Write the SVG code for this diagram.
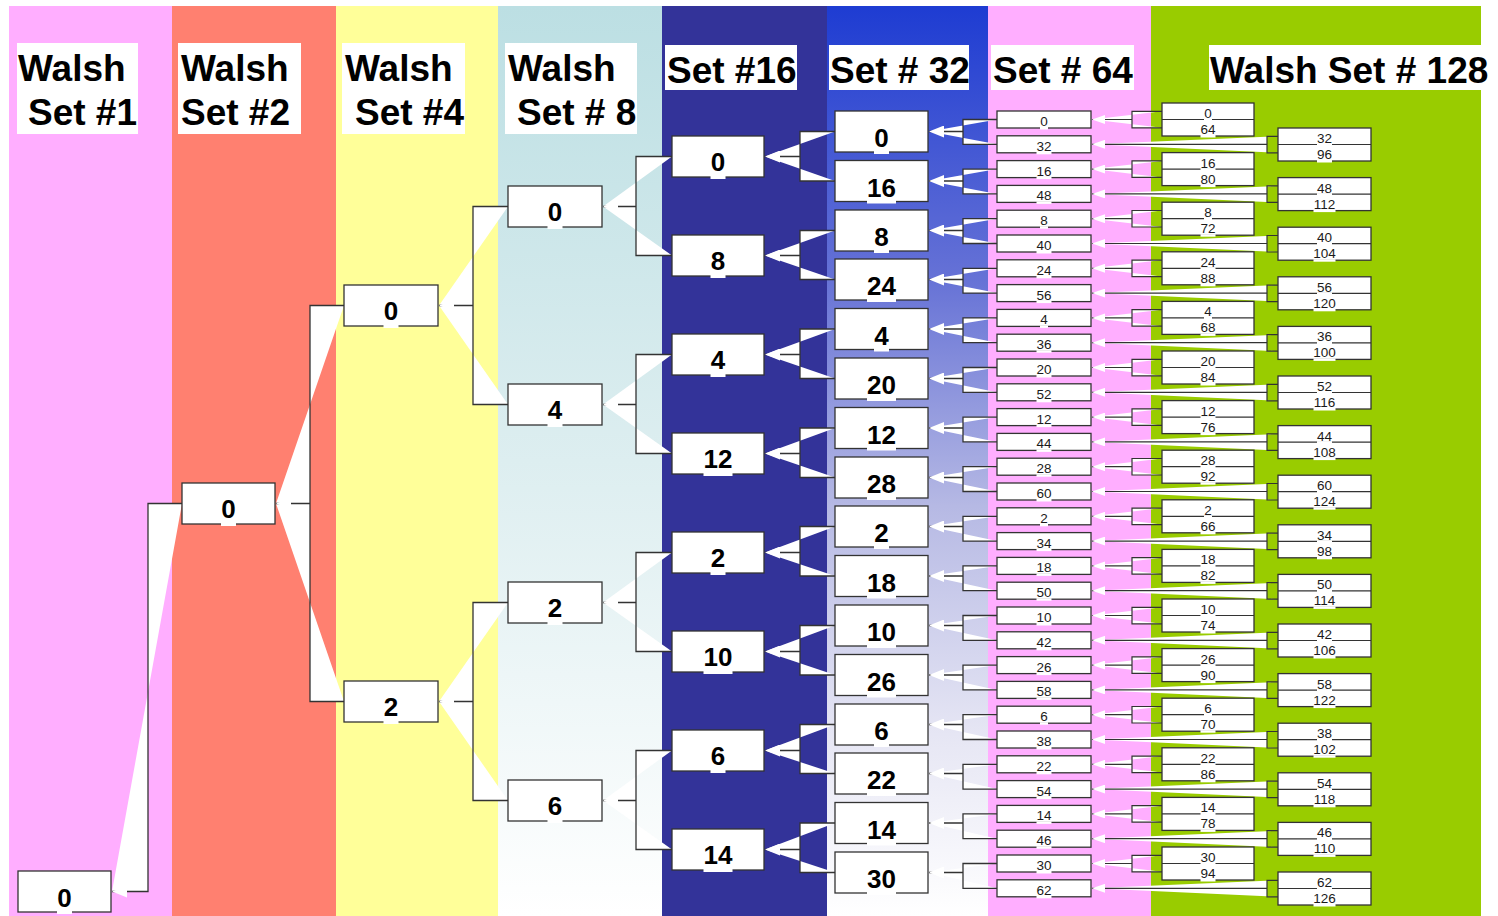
<svg xmlns="http://www.w3.org/2000/svg" width="1498" height="916" viewBox="0 0 1498 916">
<style>
.bx{fill:#fff;stroke:#333;stroke-width:1.3}
.dv{stroke:#333;stroke-width:1.2}
.tb{fill:#fff}
.gp{fill:#fff}
.t1{font-family:"Liberation Sans",Arial,sans-serif;font-weight:bold;font-size:37px;fill:#000}
.nb{font-family:"Liberation Sans",Arial,sans-serif;font-weight:bold;font-size:26px;fill:#000;text-anchor:middle}
.ns{font-family:"Liberation Sans",Arial,sans-serif;font-size:13.5px;fill:#1a1a1a;text-anchor:middle}
.c{fill:#fff;stroke:#333;stroke-width:1.3;marker-end:url(#ab)}
.cs{fill:#fff;stroke:#333;stroke-width:1.2;marker-end:url(#as)}
</style>
<defs>
<linearGradient id="g4" x1="0" y1="0" x2="0" y2="1">
<stop offset="0" stop-color="#BCDFE3"/><stop offset="0.5" stop-color="#DDEEF0"/><stop offset="1" stop-color="#FFFFFF"/>
</linearGradient>
<linearGradient id="g6" x1="0" y1="0" x2="0" y2="1">
<stop offset="0" stop-color="#1E3CD2"/><stop offset="0.3" stop-color="#6672D6"/><stop offset="0.55" stop-color="#B6B9E4"/><stop offset="0.8" stop-color="#E6E6F4"/><stop offset="1" stop-color="#FFFFFF"/>
</linearGradient>
<marker id="ab" viewBox="0 0 15 12" refX="15" refY="6" markerWidth="15" markerHeight="12" markerUnits="userSpaceOnUse" orient="auto"><path d="M0,0L15,6L0,12Z" fill="#fff"/></marker>
<marker id="as" viewBox="0 0 13 9" refX="13" refY="4.5" markerWidth="13" markerHeight="9" markerUnits="userSpaceOnUse" orient="auto"><path d="M0,0L13,4.5L0,9Z" fill="#fff"/></marker>
</defs>
<rect width="1498" height="916" fill="#fff"/>
<g id="columns">
<rect x="9" y="6" width="163" height="910" fill="#FFAEFF"/>
<rect x="172" y="6" width="164" height="910" fill="#FF8070"/>
<rect x="336" y="6" width="162" height="910" fill="#FFFF99"/>
<rect x="498" y="6" width="164" height="910" fill="url(#g4)"/>
<rect x="662" y="6" width="165" height="910" fill="#333399"/>
<rect x="827" y="6" width="161" height="910" fill="url(#g6)"/>
<rect x="988" y="6" width="163" height="910" fill="#FFAEFF"/>
<rect x="1151" y="6" width="330" height="910" fill="#99CC00"/>
</g>
<g id="titles">
<rect class="tb" x="17" y="43" width="121" height="91"/>
<text class="t1" x="18" y="81">Walsh</text><text class="t1" x="28" y="125">Set #1</text>
<rect class="tb" x="178" y="43" width="123" height="91"/>
<text class="t1" x="181" y="81">Walsh</text><text class="t1" x="181" y="125">Set #2</text>
<rect class="tb" x="342" y="43" width="123" height="91"/>
<text class="t1" x="345" y="81">Walsh</text><text class="t1" x="355" y="125">Set #4</text>
<rect class="tb" x="505" y="43" width="132" height="91"/>
<text class="t1" x="508" y="81">Walsh</text><text class="t1" x="517" y="125">Set # 8</text>
<rect class="tb" x="665" y="45" width="132" height="45"/>
<text class="t1" x="667" y="83">Set #16</text>
<rect class="tb" x="829" y="45" width="140" height="45"/>
<text class="t1" x="830" y="83">Set # 32</text>
<rect class="tb" x="991" y="45" width="143" height="45"/>
<text class="t1" x="993" y="83">Set # 64</text>
<rect class="tb" x="1209" y="45" width="281" height="45"/>
<text class="t1" x="1210" y="83">Walsh Set # 128</text>
</g>
<g id="connectors">
<path class="c" d="M182,503.5H148V891.5H112"/>
<path class="c" d="M344,305.5H310V503.5H276M344,701.5H310V503.5H276"/>
<path class="c" d="M508,206.5H473V305.5H439M508,404.5H473V305.5H439"/>
<path class="c" d="M508,602.5H473V701.5H439M508,800.5H473V701.5H439"/>
<path class="c" d="M672,156.5H636V206.5H603M672,255.5H636V206.5H603"/>
<path class="c" d="M672,354.5H636V404.5H603M672,453.5H636V404.5H603"/>
<path class="c" d="M672,552.5H636V602.5H603M672,651.5H636V602.5H603"/>
<path class="c" d="M672,750.5H636V800.5H603M672,849.5H636V800.5H603"/>
<path class="c" d="M835,131.5H800V156.5H765M835,181H800V156.5H765"/>
<path class="c" d="M835,230.5H800V255.5H765M835,279.5H800V255.5H765"/>
<path class="c" d="M835,329H800V354.5H765M835,378.5H800V354.5H765"/>
<path class="c" d="M835,428H800V453.5H765M835,477.5H800V453.5H765"/>
<path class="c" d="M835,526.5H800V552.5H765M835,576H800V552.5H765"/>
<path class="c" d="M835,625.5H800V651.5H765M835,675H800V651.5H765"/>
<path class="c" d="M835,724.5H800V750.5H765M835,773.5H800V750.5H765"/>
<path class="c" d="M835,823H800V849.5H765M835,872.5H800V849.5H765"/>
<path class="c" d="M997,119.5H963V131.5H929M997,144.3H963V131.5H929"/>
<path class="c" d="M997,169.1H963V181H929M997,193.9H963V181H929"/>
<path class="c" d="M997,218.7H963V230.5H929M997,243.5H963V230.5H929"/>
<path class="c" d="M997,268.3H963V279.5H929M997,293.1H963V279.5H929"/>
<path class="c" d="M997,317.9H963V329H929M997,342.7H963V329H929"/>
<path class="c" d="M997,367.5H963V378.5H929M997,392.3H963V378.5H929"/>
<path class="c" d="M997,417.1H963V428H929M997,441.9H963V428H929"/>
<path class="c" d="M997,466.7H963V477.5H929M997,491.5H963V477.5H929"/>
<path class="c" d="M997,516.3H963V526.5H929M997,541.1H963V526.5H929"/>
<path class="c" d="M997,565.9H963V576H929M997,590.7H963V576H929"/>
<path class="c" d="M997,615.5H963V625.5H929M997,640.3H963V625.5H929"/>
<path class="c" d="M997,665.1H963V675H929M997,689.9H963V675H929"/>
<path class="c" d="M997,714.7H963V724.5H929M997,739.5H963V724.5H929"/>
<path class="c" d="M997,764.3H963V773.5H929M997,789.1H963V773.5H929"/>
<path class="c" d="M997,813.9H963V823H929M997,838.7H963V823H929"/>
<path class="c" d="M997,863.5H963V872.5H929M997,888.3H963V872.5H929"/>
<path class="cs" d="M1162,111.3H1132V119.5H1092M1162,127.8H1132V119.5H1092"/>
<path class="cs" d="M1278,136.3H1267V144.3H1092M1278,152.8H1267V144.3H1092"/>
<path class="cs" d="M1162,160.9H1132V169.1H1092M1162,177.4H1132V169.1H1092"/>
<path class="cs" d="M1278,185.9H1267V193.9H1092M1278,202.4H1267V193.9H1092"/>
<path class="cs" d="M1162,210.5H1132V218.7H1092M1162,227H1132V218.7H1092"/>
<path class="cs" d="M1278,235.5H1267V243.5H1092M1278,252H1267V243.5H1092"/>
<path class="cs" d="M1162,260.1H1132V268.3H1092M1162,276.6H1132V268.3H1092"/>
<path class="cs" d="M1278,285.1H1267V293.1H1092M1278,301.6H1267V293.1H1092"/>
<path class="cs" d="M1162,309.7H1132V317.9H1092M1162,326.2H1132V317.9H1092"/>
<path class="cs" d="M1278,334.7H1267V342.7H1092M1278,351.2H1267V342.7H1092"/>
<path class="cs" d="M1162,359.3H1132V367.5H1092M1162,375.8H1132V367.5H1092"/>
<path class="cs" d="M1278,384.3H1267V392.3H1092M1278,400.8H1267V392.3H1092"/>
<path class="cs" d="M1162,408.9H1132V417.1H1092M1162,425.4H1132V417.1H1092"/>
<path class="cs" d="M1278,433.9H1267V441.9H1092M1278,450.4H1267V441.9H1092"/>
<path class="cs" d="M1162,458.5H1132V466.7H1092M1162,475H1132V466.7H1092"/>
<path class="cs" d="M1278,483.5H1267V491.5H1092M1278,500H1267V491.5H1092"/>
<path class="cs" d="M1162,508.1H1132V516.3H1092M1162,524.6H1132V516.3H1092"/>
<path class="cs" d="M1278,533.1H1267V541.1H1092M1278,549.6H1267V541.1H1092"/>
<path class="cs" d="M1162,557.7H1132V565.9H1092M1162,574.2H1132V565.9H1092"/>
<path class="cs" d="M1278,582.7H1267V590.7H1092M1278,599.2H1267V590.7H1092"/>
<path class="cs" d="M1162,607.3H1132V615.5H1092M1162,623.8H1132V615.5H1092"/>
<path class="cs" d="M1278,632.3H1267V640.3H1092M1278,648.8H1267V640.3H1092"/>
<path class="cs" d="M1162,656.9H1132V665.1H1092M1162,673.4H1132V665.1H1092"/>
<path class="cs" d="M1278,681.9H1267V689.9H1092M1278,698.4H1267V689.9H1092"/>
<path class="cs" d="M1162,706.5H1132V714.7H1092M1162,723H1132V714.7H1092"/>
<path class="cs" d="M1278,731.5H1267V739.5H1092M1278,748H1267V739.5H1092"/>
<path class="cs" d="M1162,756.1H1132V764.3H1092M1162,772.6H1132V764.3H1092"/>
<path class="cs" d="M1278,781.1H1267V789.1H1092M1278,797.6H1267V789.1H1092"/>
<path class="cs" d="M1162,805.7H1132V813.9H1092M1162,822.2H1132V813.9H1092"/>
<path class="cs" d="M1278,830.7H1267V838.7H1092M1278,847.2H1267V838.7H1092"/>
<path class="cs" d="M1162,855.3H1132V863.5H1092M1162,871.8H1132V863.5H1092"/>
<path class="cs" d="M1278,880.3H1267V888.3H1092M1278,896.8H1267V888.3H1092"/>
</g>
<g id="set1">
<g id="s1-0" transform="translate(18,871)"><rect class="bx" width="93" height="41"/><rect class="gp" x="39" y="39.5" width="15" height="3.5"/><text class="nb" x="46.5" y="35.5">0</text></g>
</g>
<g id="set2">
<g id="s2-0" transform="translate(182,483)"><rect class="bx" width="93" height="41"/><rect class="gp" x="39" y="39.5" width="15" height="3.5"/><text class="nb" x="46.5" y="35">0</text></g>
</g>
<g id="set4">
<g id="s4-0" transform="translate(344,285)"><rect class="bx" width="94" height="41"/><rect class="gp" x="39.5" y="39.5" width="15" height="3.5"/><text class="nb" x="47" y="35">0</text></g>
<g id="s4-2" transform="translate(344,681)"><rect class="bx" width="94" height="41"/><rect class="gp" x="39.5" y="39.5" width="15" height="3.5"/><text class="nb" x="47" y="35">2</text></g>
</g>
<g id="set8">
<g id="s8-0" transform="translate(508,186)"><rect class="bx" width="94" height="41"/><rect class="gp" x="39.5" y="39.5" width="15" height="3.5"/><text class="nb" x="47" y="35">0</text></g>
<g id="s8-4" transform="translate(508,384)"><rect class="bx" width="94" height="41"/><rect class="gp" x="39.5" y="39.5" width="15" height="3.5"/><text class="nb" x="47" y="35">4</text></g>
<g id="s8-2" transform="translate(508,582)"><rect class="bx" width="94" height="41"/><rect class="gp" x="39.5" y="39.5" width="15" height="3.5"/><text class="nb" x="47" y="35">2</text></g>
<g id="s8-6" transform="translate(508,780)"><rect class="bx" width="94" height="41"/><rect class="gp" x="39.5" y="39.5" width="15" height="3.5"/><text class="nb" x="47" y="35">6</text></g>
</g>
<g id="set16">
<g id="s16-0" transform="translate(672,136)"><rect class="bx" width="92" height="41"/><rect class="gp" x="38.5" y="39.5" width="15" height="3.5"/><text class="nb" x="46" y="35">0</text></g>
<g id="s16-8" transform="translate(672,235)"><rect class="bx" width="92" height="41"/><rect class="gp" x="38.5" y="39.5" width="15" height="3.5"/><text class="nb" x="46" y="35">8</text></g>
<g id="s16-4" transform="translate(672,334)"><rect class="bx" width="92" height="41"/><rect class="gp" x="38.5" y="39.5" width="15" height="3.5"/><text class="nb" x="46" y="35">4</text></g>
<g id="s16-12" transform="translate(672,433)"><rect class="bx" width="92" height="41"/><rect class="gp" x="31.5" y="39.5" width="29" height="3.5"/><text class="nb" x="46" y="35">12</text></g>
<g id="s16-2" transform="translate(672,532)"><rect class="bx" width="92" height="41"/><rect class="gp" x="38.5" y="39.5" width="15" height="3.5"/><text class="nb" x="46" y="35">2</text></g>
<g id="s16-10" transform="translate(672,631)"><rect class="bx" width="92" height="41"/><rect class="gp" x="31.5" y="39.5" width="29" height="3.5"/><text class="nb" x="46" y="35">10</text></g>
<g id="s16-6" transform="translate(672,730)"><rect class="bx" width="92" height="41"/><rect class="gp" x="38.5" y="39.5" width="15" height="3.5"/><text class="nb" x="46" y="35">6</text></g>
<g id="s16-14" transform="translate(672,829)"><rect class="bx" width="92" height="41"/><rect class="gp" x="31.5" y="39.5" width="29" height="3.5"/><text class="nb" x="46" y="35">14</text></g>
</g>
<g id="set32">
<g id="s32-0" transform="translate(835,111)"><rect class="bx" width="93" height="41"/><rect class="gp" x="39" y="39.5" width="15" height="3.5"/><text class="nb" x="46.5" y="36">0</text></g>
<g id="s32-16" transform="translate(835,160.5)"><rect class="bx" width="93" height="41"/><rect class="gp" x="32" y="39.5" width="29" height="3.5"/><text class="nb" x="46.5" y="36">16</text></g>
<g id="s32-8" transform="translate(835,210)"><rect class="bx" width="93" height="41"/><rect class="gp" x="39" y="39.5" width="15" height="3.5"/><text class="nb" x="46.5" y="36">8</text></g>
<g id="s32-24" transform="translate(835,259)"><rect class="bx" width="93" height="41"/><rect class="gp" x="32" y="39.5" width="29" height="3.5"/><text class="nb" x="46.5" y="36">24</text></g>
<g id="s32-4" transform="translate(835,308.5)"><rect class="bx" width="93" height="41"/><rect class="gp" x="39" y="39.5" width="15" height="3.5"/><text class="nb" x="46.5" y="36">4</text></g>
<g id="s32-20" transform="translate(835,358)"><rect class="bx" width="93" height="41"/><rect class="gp" x="32" y="39.5" width="29" height="3.5"/><text class="nb" x="46.5" y="36">20</text></g>
<g id="s32-12" transform="translate(835,407.5)"><rect class="bx" width="93" height="41"/><rect class="gp" x="32" y="39.5" width="29" height="3.5"/><text class="nb" x="46.5" y="36">12</text></g>
<g id="s32-28" transform="translate(835,457)"><rect class="bx" width="93" height="41"/><rect class="gp" x="32" y="39.5" width="29" height="3.5"/><text class="nb" x="46.5" y="36">28</text></g>
<g id="s32-2" transform="translate(835,506)"><rect class="bx" width="93" height="41"/><rect class="gp" x="39" y="39.5" width="15" height="3.5"/><text class="nb" x="46.5" y="36">2</text></g>
<g id="s32-18" transform="translate(835,555.5)"><rect class="bx" width="93" height="41"/><rect class="gp" x="32" y="39.5" width="29" height="3.5"/><text class="nb" x="46.5" y="36">18</text></g>
<g id="s32-10" transform="translate(835,605)"><rect class="bx" width="93" height="41"/><rect class="gp" x="32" y="39.5" width="29" height="3.5"/><text class="nb" x="46.5" y="36">10</text></g>
<g id="s32-26" transform="translate(835,654.5)"><rect class="bx" width="93" height="41"/><rect class="gp" x="32" y="39.5" width="29" height="3.5"/><text class="nb" x="46.5" y="36">26</text></g>
<g id="s32-6" transform="translate(835,704)"><rect class="bx" width="93" height="41"/><rect class="gp" x="39" y="39.5" width="15" height="3.5"/><text class="nb" x="46.5" y="36">6</text></g>
<g id="s32-22" transform="translate(835,753)"><rect class="bx" width="93" height="41"/><rect class="gp" x="32" y="39.5" width="29" height="3.5"/><text class="nb" x="46.5" y="36">22</text></g>
<g id="s32-14" transform="translate(835,802.5)"><rect class="bx" width="93" height="41"/><rect class="gp" x="32" y="39.5" width="29" height="3.5"/><text class="nb" x="46.5" y="36">14</text></g>
<g id="s32-30" transform="translate(835,852)"><rect class="bx" width="93" height="41"/><rect class="gp" x="32" y="39.5" width="29" height="3.5"/><text class="nb" x="46.5" y="36">30</text></g>
</g>
<g id="set64">
<g id="s64-0" transform="translate(997,111)"><rect class="bx" width="94" height="17"/><rect class="gp" x="43" y="16" width="8" height="2.5"/><text class="ns" x="47" y="15">0</text></g>
<g id="s64-32" transform="translate(997,135.8)"><rect class="bx" width="94" height="17"/><rect class="gp" x="39.5" y="16" width="15" height="2.5"/><text class="ns" x="47" y="15">32</text></g>
<g id="s64-16" transform="translate(997,160.6)"><rect class="bx" width="94" height="17"/><rect class="gp" x="39.5" y="16" width="15" height="2.5"/><text class="ns" x="47" y="15">16</text></g>
<g id="s64-48" transform="translate(997,185.4)"><rect class="bx" width="94" height="17"/><rect class="gp" x="39.5" y="16" width="15" height="2.5"/><text class="ns" x="47" y="15">48</text></g>
<g id="s64-8" transform="translate(997,210.2)"><rect class="bx" width="94" height="17"/><rect class="gp" x="43" y="16" width="8" height="2.5"/><text class="ns" x="47" y="15">8</text></g>
<g id="s64-40" transform="translate(997,235)"><rect class="bx" width="94" height="17"/><rect class="gp" x="39.5" y="16" width="15" height="2.5"/><text class="ns" x="47" y="15">40</text></g>
<g id="s64-24" transform="translate(997,259.8)"><rect class="bx" width="94" height="17"/><rect class="gp" x="39.5" y="16" width="15" height="2.5"/><text class="ns" x="47" y="15">24</text></g>
<g id="s64-56" transform="translate(997,284.6)"><rect class="bx" width="94" height="17"/><rect class="gp" x="39.5" y="16" width="15" height="2.5"/><text class="ns" x="47" y="15">56</text></g>
<g id="s64-4" transform="translate(997,309.4)"><rect class="bx" width="94" height="17"/><rect class="gp" x="43" y="16" width="8" height="2.5"/><text class="ns" x="47" y="15">4</text></g>
<g id="s64-36" transform="translate(997,334.2)"><rect class="bx" width="94" height="17"/><rect class="gp" x="39.5" y="16" width="15" height="2.5"/><text class="ns" x="47" y="15">36</text></g>
<g id="s64-20" transform="translate(997,359)"><rect class="bx" width="94" height="17"/><rect class="gp" x="39.5" y="16" width="15" height="2.5"/><text class="ns" x="47" y="15">20</text></g>
<g id="s64-52" transform="translate(997,383.8)"><rect class="bx" width="94" height="17"/><rect class="gp" x="39.5" y="16" width="15" height="2.5"/><text class="ns" x="47" y="15">52</text></g>
<g id="s64-12" transform="translate(997,408.6)"><rect class="bx" width="94" height="17"/><rect class="gp" x="39.5" y="16" width="15" height="2.5"/><text class="ns" x="47" y="15">12</text></g>
<g id="s64-44" transform="translate(997,433.4)"><rect class="bx" width="94" height="17"/><rect class="gp" x="39.5" y="16" width="15" height="2.5"/><text class="ns" x="47" y="15">44</text></g>
<g id="s64-28" transform="translate(997,458.2)"><rect class="bx" width="94" height="17"/><rect class="gp" x="39.5" y="16" width="15" height="2.5"/><text class="ns" x="47" y="15">28</text></g>
<g id="s64-60" transform="translate(997,483)"><rect class="bx" width="94" height="17"/><rect class="gp" x="39.5" y="16" width="15" height="2.5"/><text class="ns" x="47" y="15">60</text></g>
<g id="s64-2" transform="translate(997,507.8)"><rect class="bx" width="94" height="17"/><rect class="gp" x="43" y="16" width="8" height="2.5"/><text class="ns" x="47" y="15">2</text></g>
<g id="s64-34" transform="translate(997,532.6)"><rect class="bx" width="94" height="17"/><rect class="gp" x="39.5" y="16" width="15" height="2.5"/><text class="ns" x="47" y="15">34</text></g>
<g id="s64-18" transform="translate(997,557.4)"><rect class="bx" width="94" height="17"/><rect class="gp" x="39.5" y="16" width="15" height="2.5"/><text class="ns" x="47" y="15">18</text></g>
<g id="s64-50" transform="translate(997,582.2)"><rect class="bx" width="94" height="17"/><rect class="gp" x="39.5" y="16" width="15" height="2.5"/><text class="ns" x="47" y="15">50</text></g>
<g id="s64-10" transform="translate(997,607)"><rect class="bx" width="94" height="17"/><rect class="gp" x="39.5" y="16" width="15" height="2.5"/><text class="ns" x="47" y="15">10</text></g>
<g id="s64-42" transform="translate(997,631.8)"><rect class="bx" width="94" height="17"/><rect class="gp" x="39.5" y="16" width="15" height="2.5"/><text class="ns" x="47" y="15">42</text></g>
<g id="s64-26" transform="translate(997,656.6)"><rect class="bx" width="94" height="17"/><rect class="gp" x="39.5" y="16" width="15" height="2.5"/><text class="ns" x="47" y="15">26</text></g>
<g id="s64-58" transform="translate(997,681.4)"><rect class="bx" width="94" height="17"/><rect class="gp" x="39.5" y="16" width="15" height="2.5"/><text class="ns" x="47" y="15">58</text></g>
<g id="s64-6" transform="translate(997,706.2)"><rect class="bx" width="94" height="17"/><rect class="gp" x="43" y="16" width="8" height="2.5"/><text class="ns" x="47" y="15">6</text></g>
<g id="s64-38" transform="translate(997,731)"><rect class="bx" width="94" height="17"/><rect class="gp" x="39.5" y="16" width="15" height="2.5"/><text class="ns" x="47" y="15">38</text></g>
<g id="s64-22" transform="translate(997,755.8)"><rect class="bx" width="94" height="17"/><rect class="gp" x="39.5" y="16" width="15" height="2.5"/><text class="ns" x="47" y="15">22</text></g>
<g id="s64-54" transform="translate(997,780.6)"><rect class="bx" width="94" height="17"/><rect class="gp" x="39.5" y="16" width="15" height="2.5"/><text class="ns" x="47" y="15">54</text></g>
<g id="s64-14" transform="translate(997,805.4)"><rect class="bx" width="94" height="17"/><rect class="gp" x="39.5" y="16" width="15" height="2.5"/><text class="ns" x="47" y="15">14</text></g>
<g id="s64-46" transform="translate(997,830.2)"><rect class="bx" width="94" height="17"/><rect class="gp" x="39.5" y="16" width="15" height="2.5"/><text class="ns" x="47" y="15">46</text></g>
<g id="s64-30" transform="translate(997,855)"><rect class="bx" width="94" height="17"/><rect class="gp" x="39.5" y="16" width="15" height="2.5"/><text class="ns" x="47" y="15">30</text></g>
<g id="s64-62" transform="translate(997,879.8)"><rect class="bx" width="94" height="17"/><rect class="gp" x="39.5" y="16" width="15" height="2.5"/><text class="ns" x="47" y="15">62</text></g>
</g>
<g id="set128">
<g id="s128-0-64" transform="translate(1162,103)"><rect class="bx" width="92" height="33"/><line class="dv" x1="0" y1="16.5" x2="92" y2="16.5"/><rect class="gp" x="42" y="15.5" width="8" height="2.5"/><rect class="gp" x="38.5" y="32" width="15" height="2.5"/><text class="ns" x="46" y="15">0</text><text class="ns" x="46" y="31">64</text></g>
<g id="s128-16-80" transform="translate(1162,152.6)"><rect class="bx" width="92" height="33"/><line class="dv" x1="0" y1="16.5" x2="92" y2="16.5"/><rect class="gp" x="38.5" y="15.5" width="15" height="2.5"/><rect class="gp" x="38.5" y="32" width="15" height="2.5"/><text class="ns" x="46" y="15">16</text><text class="ns" x="46" y="31">80</text></g>
<g id="s128-8-72" transform="translate(1162,202.2)"><rect class="bx" width="92" height="33"/><line class="dv" x1="0" y1="16.5" x2="92" y2="16.5"/><rect class="gp" x="42" y="15.5" width="8" height="2.5"/><rect class="gp" x="38.5" y="32" width="15" height="2.5"/><text class="ns" x="46" y="15">8</text><text class="ns" x="46" y="31">72</text></g>
<g id="s128-24-88" transform="translate(1162,251.8)"><rect class="bx" width="92" height="33"/><line class="dv" x1="0" y1="16.5" x2="92" y2="16.5"/><rect class="gp" x="38.5" y="15.5" width="15" height="2.5"/><rect class="gp" x="38.5" y="32" width="15" height="2.5"/><text class="ns" x="46" y="15">24</text><text class="ns" x="46" y="31">88</text></g>
<g id="s128-4-68" transform="translate(1162,301.4)"><rect class="bx" width="92" height="33"/><line class="dv" x1="0" y1="16.5" x2="92" y2="16.5"/><rect class="gp" x="42" y="15.5" width="8" height="2.5"/><rect class="gp" x="38.5" y="32" width="15" height="2.5"/><text class="ns" x="46" y="15">4</text><text class="ns" x="46" y="31">68</text></g>
<g id="s128-20-84" transform="translate(1162,351)"><rect class="bx" width="92" height="33"/><line class="dv" x1="0" y1="16.5" x2="92" y2="16.5"/><rect class="gp" x="38.5" y="15.5" width="15" height="2.5"/><rect class="gp" x="38.5" y="32" width="15" height="2.5"/><text class="ns" x="46" y="15">20</text><text class="ns" x="46" y="31">84</text></g>
<g id="s128-12-76" transform="translate(1162,400.6)"><rect class="bx" width="92" height="33"/><line class="dv" x1="0" y1="16.5" x2="92" y2="16.5"/><rect class="gp" x="38.5" y="15.5" width="15" height="2.5"/><rect class="gp" x="38.5" y="32" width="15" height="2.5"/><text class="ns" x="46" y="15">12</text><text class="ns" x="46" y="31">76</text></g>
<g id="s128-28-92" transform="translate(1162,450.2)"><rect class="bx" width="92" height="33"/><line class="dv" x1="0" y1="16.5" x2="92" y2="16.5"/><rect class="gp" x="38.5" y="15.5" width="15" height="2.5"/><rect class="gp" x="38.5" y="32" width="15" height="2.5"/><text class="ns" x="46" y="15">28</text><text class="ns" x="46" y="31">92</text></g>
<g id="s128-2-66" transform="translate(1162,499.8)"><rect class="bx" width="92" height="33"/><line class="dv" x1="0" y1="16.5" x2="92" y2="16.5"/><rect class="gp" x="42" y="15.5" width="8" height="2.5"/><rect class="gp" x="38.5" y="32" width="15" height="2.5"/><text class="ns" x="46" y="15">2</text><text class="ns" x="46" y="31">66</text></g>
<g id="s128-18-82" transform="translate(1162,549.4)"><rect class="bx" width="92" height="33"/><line class="dv" x1="0" y1="16.5" x2="92" y2="16.5"/><rect class="gp" x="38.5" y="15.5" width="15" height="2.5"/><rect class="gp" x="38.5" y="32" width="15" height="2.5"/><text class="ns" x="46" y="15">18</text><text class="ns" x="46" y="31">82</text></g>
<g id="s128-10-74" transform="translate(1162,599)"><rect class="bx" width="92" height="33"/><line class="dv" x1="0" y1="16.5" x2="92" y2="16.5"/><rect class="gp" x="38.5" y="15.5" width="15" height="2.5"/><rect class="gp" x="38.5" y="32" width="15" height="2.5"/><text class="ns" x="46" y="15">10</text><text class="ns" x="46" y="31">74</text></g>
<g id="s128-26-90" transform="translate(1162,648.6)"><rect class="bx" width="92" height="33"/><line class="dv" x1="0" y1="16.5" x2="92" y2="16.5"/><rect class="gp" x="38.5" y="15.5" width="15" height="2.5"/><rect class="gp" x="38.5" y="32" width="15" height="2.5"/><text class="ns" x="46" y="15">26</text><text class="ns" x="46" y="31">90</text></g>
<g id="s128-6-70" transform="translate(1162,698.2)"><rect class="bx" width="92" height="33"/><line class="dv" x1="0" y1="16.5" x2="92" y2="16.5"/><rect class="gp" x="42" y="15.5" width="8" height="2.5"/><rect class="gp" x="38.5" y="32" width="15" height="2.5"/><text class="ns" x="46" y="15">6</text><text class="ns" x="46" y="31">70</text></g>
<g id="s128-22-86" transform="translate(1162,747.8)"><rect class="bx" width="92" height="33"/><line class="dv" x1="0" y1="16.5" x2="92" y2="16.5"/><rect class="gp" x="38.5" y="15.5" width="15" height="2.5"/><rect class="gp" x="38.5" y="32" width="15" height="2.5"/><text class="ns" x="46" y="15">22</text><text class="ns" x="46" y="31">86</text></g>
<g id="s128-14-78" transform="translate(1162,797.4)"><rect class="bx" width="92" height="33"/><line class="dv" x1="0" y1="16.5" x2="92" y2="16.5"/><rect class="gp" x="38.5" y="15.5" width="15" height="2.5"/><rect class="gp" x="38.5" y="32" width="15" height="2.5"/><text class="ns" x="46" y="15">14</text><text class="ns" x="46" y="31">78</text></g>
<g id="s128-30-94" transform="translate(1162,847)"><rect class="bx" width="92" height="33"/><line class="dv" x1="0" y1="16.5" x2="92" y2="16.5"/><rect class="gp" x="38.5" y="15.5" width="15" height="2.5"/><rect class="gp" x="38.5" y="32" width="15" height="2.5"/><text class="ns" x="46" y="15">30</text><text class="ns" x="46" y="31">94</text></g>
<g id="s128-32-96" transform="translate(1278,128)"><rect class="bx" width="93" height="33"/><line class="dv" x1="0" y1="16.5" x2="93" y2="16.5"/><rect class="gp" x="39" y="15.5" width="15" height="2.5"/><rect class="gp" x="39" y="32" width="15" height="2.5"/><text class="ns" x="46.5" y="15">32</text><text class="ns" x="46.5" y="31">96</text></g>
<g id="s128-48-112" transform="translate(1278,177.6)"><rect class="bx" width="93" height="33"/><line class="dv" x1="0" y1="16.5" x2="93" y2="16.5"/><rect class="gp" x="39" y="15.5" width="15" height="2.5"/><rect class="gp" x="35.5" y="32" width="22" height="2.5"/><text class="ns" x="46.5" y="15">48</text><text class="ns" x="46.5" y="31">112</text></g>
<g id="s128-40-104" transform="translate(1278,227.2)"><rect class="bx" width="93" height="33"/><line class="dv" x1="0" y1="16.5" x2="93" y2="16.5"/><rect class="gp" x="39" y="15.5" width="15" height="2.5"/><rect class="gp" x="35.5" y="32" width="22" height="2.5"/><text class="ns" x="46.5" y="15">40</text><text class="ns" x="46.5" y="31">104</text></g>
<g id="s128-56-120" transform="translate(1278,276.8)"><rect class="bx" width="93" height="33"/><line class="dv" x1="0" y1="16.5" x2="93" y2="16.5"/><rect class="gp" x="39" y="15.5" width="15" height="2.5"/><rect class="gp" x="35.5" y="32" width="22" height="2.5"/><text class="ns" x="46.5" y="15">56</text><text class="ns" x="46.5" y="31">120</text></g>
<g id="s128-36-100" transform="translate(1278,326.4)"><rect class="bx" width="93" height="33"/><line class="dv" x1="0" y1="16.5" x2="93" y2="16.5"/><rect class="gp" x="39" y="15.5" width="15" height="2.5"/><rect class="gp" x="35.5" y="32" width="22" height="2.5"/><text class="ns" x="46.5" y="15">36</text><text class="ns" x="46.5" y="31">100</text></g>
<g id="s128-52-116" transform="translate(1278,376)"><rect class="bx" width="93" height="33"/><line class="dv" x1="0" y1="16.5" x2="93" y2="16.5"/><rect class="gp" x="39" y="15.5" width="15" height="2.5"/><rect class="gp" x="35.5" y="32" width="22" height="2.5"/><text class="ns" x="46.5" y="15">52</text><text class="ns" x="46.5" y="31">116</text></g>
<g id="s128-44-108" transform="translate(1278,425.6)"><rect class="bx" width="93" height="33"/><line class="dv" x1="0" y1="16.5" x2="93" y2="16.5"/><rect class="gp" x="39" y="15.5" width="15" height="2.5"/><rect class="gp" x="35.5" y="32" width="22" height="2.5"/><text class="ns" x="46.5" y="15">44</text><text class="ns" x="46.5" y="31">108</text></g>
<g id="s128-60-124" transform="translate(1278,475.2)"><rect class="bx" width="93" height="33"/><line class="dv" x1="0" y1="16.5" x2="93" y2="16.5"/><rect class="gp" x="39" y="15.5" width="15" height="2.5"/><rect class="gp" x="35.5" y="32" width="22" height="2.5"/><text class="ns" x="46.5" y="15">60</text><text class="ns" x="46.5" y="31">124</text></g>
<g id="s128-34-98" transform="translate(1278,524.8)"><rect class="bx" width="93" height="33"/><line class="dv" x1="0" y1="16.5" x2="93" y2="16.5"/><rect class="gp" x="39" y="15.5" width="15" height="2.5"/><rect class="gp" x="39" y="32" width="15" height="2.5"/><text class="ns" x="46.5" y="15">34</text><text class="ns" x="46.5" y="31">98</text></g>
<g id="s128-50-114" transform="translate(1278,574.4)"><rect class="bx" width="93" height="33"/><line class="dv" x1="0" y1="16.5" x2="93" y2="16.5"/><rect class="gp" x="39" y="15.5" width="15" height="2.5"/><rect class="gp" x="35.5" y="32" width="22" height="2.5"/><text class="ns" x="46.5" y="15">50</text><text class="ns" x="46.5" y="31">114</text></g>
<g id="s128-42-106" transform="translate(1278,624)"><rect class="bx" width="93" height="33"/><line class="dv" x1="0" y1="16.5" x2="93" y2="16.5"/><rect class="gp" x="39" y="15.5" width="15" height="2.5"/><rect class="gp" x="35.5" y="32" width="22" height="2.5"/><text class="ns" x="46.5" y="15">42</text><text class="ns" x="46.5" y="31">106</text></g>
<g id="s128-58-122" transform="translate(1278,673.6)"><rect class="bx" width="93" height="33"/><line class="dv" x1="0" y1="16.5" x2="93" y2="16.5"/><rect class="gp" x="39" y="15.5" width="15" height="2.5"/><rect class="gp" x="35.5" y="32" width="22" height="2.5"/><text class="ns" x="46.5" y="15">58</text><text class="ns" x="46.5" y="31">122</text></g>
<g id="s128-38-102" transform="translate(1278,723.2)"><rect class="bx" width="93" height="33"/><line class="dv" x1="0" y1="16.5" x2="93" y2="16.5"/><rect class="gp" x="39" y="15.5" width="15" height="2.5"/><rect class="gp" x="35.5" y="32" width="22" height="2.5"/><text class="ns" x="46.5" y="15">38</text><text class="ns" x="46.5" y="31">102</text></g>
<g id="s128-54-118" transform="translate(1278,772.8)"><rect class="bx" width="93" height="33"/><line class="dv" x1="0" y1="16.5" x2="93" y2="16.5"/><rect class="gp" x="39" y="15.5" width="15" height="2.5"/><rect class="gp" x="35.5" y="32" width="22" height="2.5"/><text class="ns" x="46.5" y="15">54</text><text class="ns" x="46.5" y="31">118</text></g>
<g id="s128-46-110" transform="translate(1278,822.4)"><rect class="bx" width="93" height="33"/><line class="dv" x1="0" y1="16.5" x2="93" y2="16.5"/><rect class="gp" x="39" y="15.5" width="15" height="2.5"/><rect class="gp" x="35.5" y="32" width="22" height="2.5"/><text class="ns" x="46.5" y="15">46</text><text class="ns" x="46.5" y="31">110</text></g>
<g id="s128-62-126" transform="translate(1278,872)"><rect class="bx" width="93" height="33"/><line class="dv" x1="0" y1="16.5" x2="93" y2="16.5"/><rect class="gp" x="39" y="15.5" width="15" height="2.5"/><rect class="gp" x="35.5" y="32" width="22" height="2.5"/><text class="ns" x="46.5" y="15">62</text><text class="ns" x="46.5" y="31">126</text></g>
</g>
</svg>
